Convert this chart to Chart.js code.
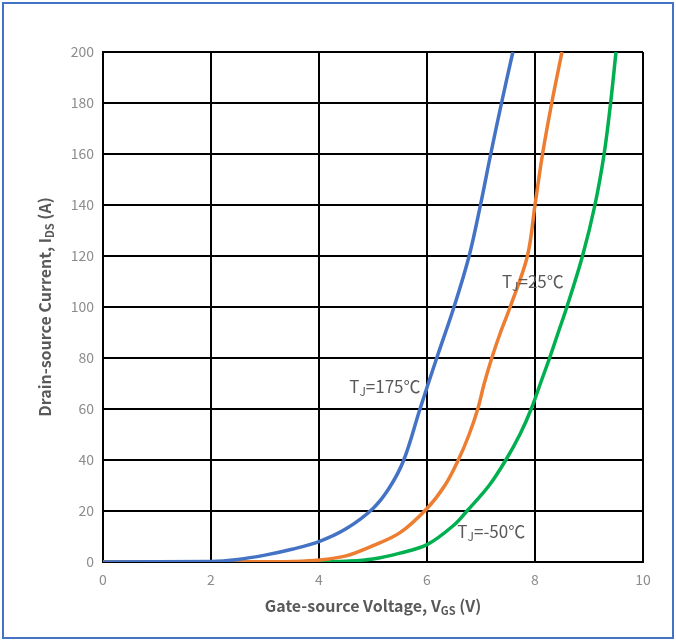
<!DOCTYPE html>
<html>
<head>
<meta charset="utf-8">
<script src="https://cdn.jsdelivr.net/npm/chart.js@4"></script>
<style>
  html, body { margin: 0; padding: 0; background: #fff; }
  #wrap { width: 676px; height: 642px; }
</style>
</head>
<body>
<div id="wrap"><canvas id="chart" width="676" height="642"></canvas></div>
<script>
// Transfer characteristics
const vgs175 = [0, 2, 2.5, 3, 3.5, 4, 4.5, 5, 5.3, 5.57, 5.87, 6.18, 6.5, 6.78, 6.99, 7.18, 7.38, 7.59];
const ids175 = [0, 0.2, 1, 2.7, 5, 8, 13, 21, 29, 40, 60, 80, 100, 120, 140, 160, 180, 200];

const vgs25 = [0, 3, 3.5, 4, 4.5, 5, 5.5, 6.0, 6.33, 6.58, 6.78, 6.94, 7.06, 7.2, 7.36, 7.54, 7.86, 8.0, 8.14, 8.31, 8.5];
const ids25 = [0, 0.05, 0.2, 0.8, 2.4, 6.4, 11.5, 21, 30, 40, 50, 60, 70, 80, 90, 100, 120, 140, 160, 180, 200];

const vgsM50 = [0, 4, 4.5, 5, 5.5, 6, 6.5, 6.74, 7.15, 7.46, 7.72, 7.93, 8.1, 8.27, 8.43, 8.59, 8.88, 9.11, 9.28, 9.4, 9.5];
const idsM50 = [0, 0, 0.3, 1.2, 3.5, 6.8, 14.5, 20, 30, 40, 50, 60, 70, 80, 90, 100, 120, 140, 160, 180, 200];

const xTicks = [0, 2, 4, 6, 8, 10];
const yTicks = [0, 20, 40, 60, 80, 100, 120, 140, 160, 180, 200];

const toPoints = (xs, ys) => xs.map((x, i) => ({ x: x, y: ys[i] }));

const FONT = "'Noto Sans CJK SC', 'Noto Sans', sans-serif";

// text pieces, some drawn as subscripts
function drawRich(ctx, parts, x, y, size, bold, color, align) {
    const big = (bold ? 'bold ' : '') + size + 'px ' + FONT;
    const small = (bold ? 'bold ' : '') + Math.round(size * 0.7) + 'px ' + FONT;
    let total = 0;
    parts.forEach(p => { ctx.font = p.sub ? small : big; total += ctx.measureText(p.t).width; });
    let cx = align === 'center' ? x - total / 2 : x;
    ctx.fillStyle = color;
    ctx.textBaseline = 'middle';
    ctx.textAlign = 'left';
    parts.forEach(p => {
        ctx.font = p.sub ? small : big;
        ctx.fillText(p.t, cx, p.sub ? y + size * 0.3 : y);
        cx += ctx.measureText(p.t).width;
    });
}

const curveLabels = [
    { parts: [{ t: 'T' }, { t: 'J', sub: true }, { t: '=175℃' }], x: 5.22, y: 69 },
    { parts: [{ t: 'T' }, { t: 'J', sub: true }, { t: '=25℃' }], x: 7.96, y: 110 },
    { parts: [{ t: 'T' }, { t: 'J', sub: true }, { t: '=-50℃' }], x: 7.19, y: 12 },
];

const decor = {
    id: 'decor',
    beforeDraw(chart) {
        const ctx = chart.ctx;
        ctx.save();
        ctx.strokeStyle = '#4472C4';
        ctx.lineWidth = 2;
        ctx.strokeRect(3, 3, 670, 635);
        ctx.restore();
    },
    afterDraw(chart) {
        const ctx = chart.ctx;
        const xs = chart.scales.x, ys = chart.scales.y;
        ctx.save();
        curveLabels.forEach(l => {
            drawRich(ctx, l.parts, xs.getPixelForValue(l.x), ys.getPixelForValue(l.y), 17, false, '#595959', 'center');
        });
        // axis titles
        drawRich(ctx, [{ t: 'Gate-source Voltage, V' }, { t: 'GS', sub: true }, { t: ' (V)' }],
            (chart.chartArea.left + chart.chartArea.right) / 2, 606, 16, true, '#595959', 'center');
        ctx.translate(45, (chart.chartArea.top + chart.chartArea.bottom) / 2);
        ctx.rotate(-Math.PI / 2);
        drawRich(ctx, [{ t: 'Drain-source Current, I' }, { t: 'DS', sub: true }, { t: ' (A)' }],
            0, 0, 16, true, '#595959', 'center');
        ctx.restore();
    }
};

const line = (data, color) => ({
    data: data,
    borderColor: color,
    backgroundColor: color,
    borderWidth: 3.5,
    pointRadius: 0,
    showLine: true,
    tension: 0.35,
    fill: false,
});

new Chart(document.getElementById('chart'), {
    type: 'scatter',
    data: {
        datasets: [
            line(toPoints(vgs175, ids175), '#4472C4'),
            line(toPoints(vgs25, ids25), '#ED7D31'),
            line(toPoints(vgsM50, idsM50), '#00B050'),
        ]
    },
    options: {
        responsive: false,
        animation: false,
        layout: { padding: { left: 0, top: 52, right: 33, bottom: 0 } },
        plugins: { legend: { display: false }, tooltip: { enabled: false } },
        scales: {
            x: {
                type: 'linear', min: 0, max: 10,
                afterBuildTicks: s => { s.ticks = xTicks.map(v => ({ value: v })); },
                afterFit: s => { s.height = 80; },
                grid: { color: '#000', lineWidth: 2, drawTicks: false },
                border: { color: '#000', width: 2 },
                ticks: { color: '#8c8c8c', padding: 9, font: { family: FONT, size: 14 } },
                title: { display: false },
            },
            y: {
                type: 'linear', min: 0, max: 200,
                afterBuildTicks: s => { s.ticks = yTicks.map(v => ({ value: v })); },
                afterFit: s => { s.width = 103; },
                grid: { color: '#000', lineWidth: 2, drawTicks: false },
                border: { color: '#000', width: 2 },
                ticks: { color: '#8c8c8c', padding: 9, font: { family: FONT, size: 14 } },
                title: { display: false },
            }
        }
    },
    plugins: [decor]
});
</script>
</body>
</html>
